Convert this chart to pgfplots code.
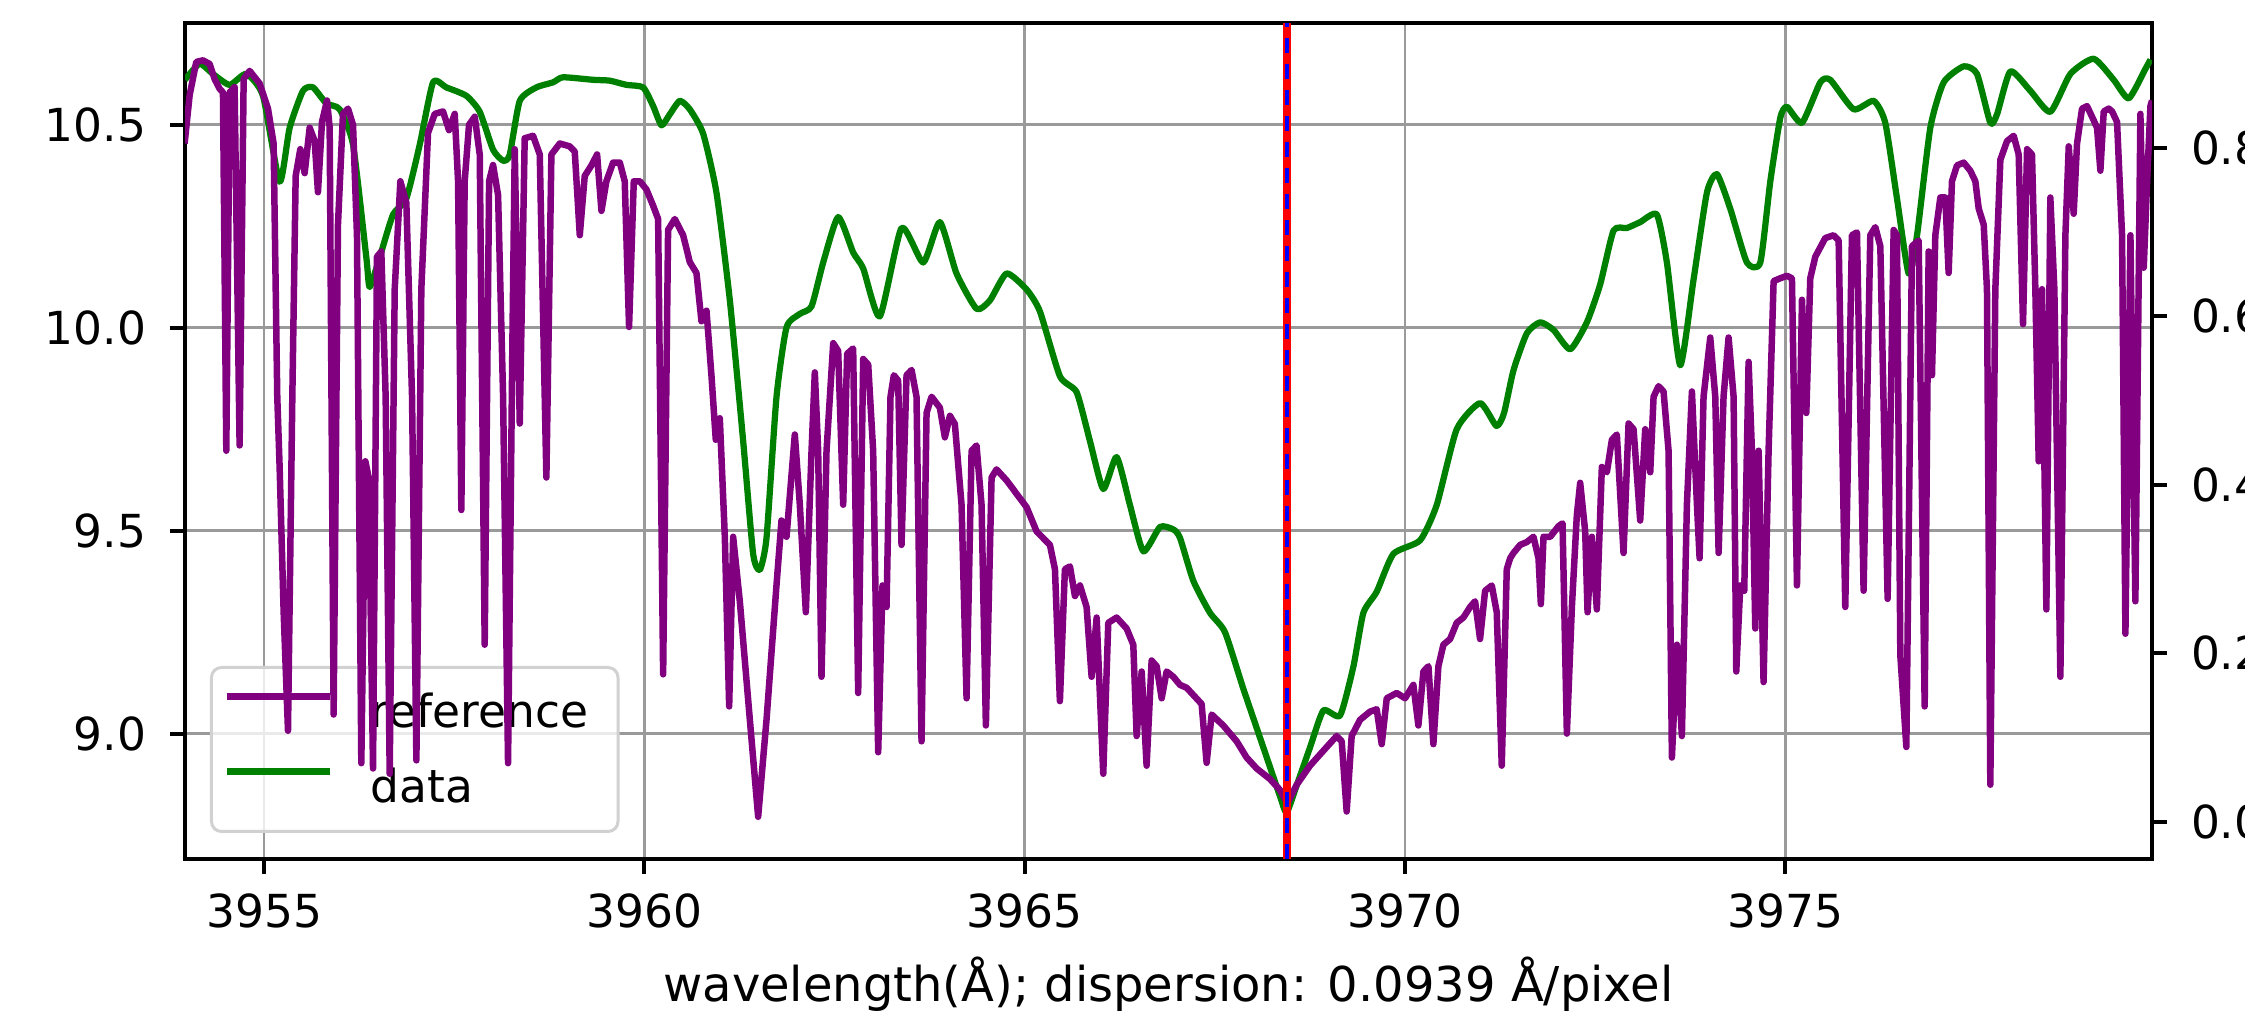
\documentclass[border=0pt]{standalone}
\usepackage{pgfplots}
\pgfplotsset{compat=1.18}
\usepackage{pgfplotstable}
\usepackage{fontspec}
\setmainfont{DejaVu Sans}
\definecolor{mplpurple}{HTML}{800080}
\definecolor{mplgreen}{HTML}{008000}
\definecolor{gridgray}{HTML}{9A9A9A}
\newcommand\fs{\fontsize{9.1}{10.9}\selectfont}
\newcommand\fsl{\fontsize{9.6}{11.5}\selectfont}

\pgfplotstableread{
x y
3953.955 10.454
3954.021 10.573
3954.108 10.655
3954.196 10.659
3954.284 10.650
3954.349 10.613
3954.415 10.589
3954.459 10.580
3954.503 9.697
3954.547 10.580
3954.612 10.593
3954.678 9.710
3954.731 10.613
3954.810 10.633
3954.941 10.602
3955.051 10.540
3955.125 10.454
3955.173 9.830
3955.204 9.657
3955.257 9.299
3955.314 9.007
3955.371 9.830
3955.415 10.374
3955.476 10.440
3955.533 10.381
3955.599 10.493
3955.665 10.460
3955.708 10.334
3955.761 10.507
3955.827 10.560
3955.862 10.493
3955.914 9.047
3955.971 10.254
3956.037 10.527
3956.103 10.540
3956.169 10.500
3956.221 10.228
3956.278 8.927
3956.331 9.671
3956.375 9.631
3956.432 8.914
3956.484 10.175
3956.541 10.188
3956.598 9.830
3956.651 8.901
3956.717 10.095
3956.791 10.361
3956.870 10.308
3956.945 9.830
3957.002 8.934
3957.067 10.095
3957.155 10.480
3957.243 10.527
3957.352 10.533
3957.431 10.487
3957.506 10.527
3957.550 10.361
3957.593 9.551
3957.637 10.361
3957.694 10.500
3957.769 10.520
3957.835 10.427
3957.900 9.219
3957.958 10.361
3958.010 10.401
3958.076 10.327
3958.142 9.830
3958.207 8.927
3958.264 9.962
3958.295 10.440
3958.361 9.764
3958.426 10.467
3958.536 10.473
3958.624 10.427
3958.711 9.631
3958.777 10.427
3958.887 10.454
3959.018 10.447
3959.084 10.434
3959.150 10.228
3959.215 10.374
3959.303 10.400
3959.378 10.427
3959.435 10.288
3959.500 10.361
3959.588 10.407
3959.676 10.407
3959.741 10.361
3959.798 10.002
3959.860 10.361
3959.939 10.361
3960.026 10.341
3960.114 10.301
3960.180 10.268
3960.246 9.146
3960.311 10.241
3960.399 10.268
3960.509 10.228
3960.596 10.162
3960.684 10.135
3960.750 10.016
3960.816 10.042
3960.881 9.883
3960.938 9.724
3960.991 9.777
3961.057 9.485
3961.114 9.067
3961.166 9.485
3961.254 9.326
3961.386 9.034
3961.495 8.795
3961.605 9.034
3961.736 9.365
3961.802 9.525
3961.868 9.485
3961.977 9.737
3962.043 9.564
3962.122 9.299
3962.197 9.697
3962.240 9.890
3962.284 9.697
3962.328 9.140
3962.394 9.697
3962.482 9.962
3962.547 9.943
3962.613 9.564
3962.665 9.936
3962.744 9.949
3962.810 9.100
3962.876 9.923
3962.942 9.909
3963.007 9.697
3963.073 8.954
3963.130 9.365
3963.183 9.312
3963.235 9.830
3963.279 9.883
3963.336 9.870
3963.380 9.465
3963.446 9.883
3963.512 9.896
3963.577 9.830
3963.643 8.981
3963.709 9.790
3963.775 9.830
3963.884 9.803
3963.950 9.730
3964.016 9.783
3964.081 9.763
3964.169 9.564
3964.235 9.087
3964.301 9.697
3964.366 9.710
3964.432 9.564
3964.489 9.020
3964.564 9.631
3964.629 9.651
3964.761 9.624
3964.892 9.591
3965.024 9.558
3965.156 9.498
3965.331 9.465
3965.397 9.405
3965.462 9.080
3965.528 9.405
3965.594 9.412
3965.660 9.339
3965.726 9.365
3965.813 9.312
3965.879 9.140
3965.945 9.286
3966.032 8.901
3966.098 9.273
3966.208 9.286
3966.339 9.259
3966.427 9.219
3966.471 8.994
3966.537 9.153
3966.602 8.921
3966.668 9.180
3966.734 9.166
3966.800 9.087
3966.865 9.153
3966.953 9.140
3967.041 9.120
3967.128 9.113
3967.325 9.073
3967.391 8.928
3967.457 9.047
3967.610 9.020
3967.786 8.981
3967.917 8.941
3968.049 8.914
3968.224 8.888
3968.356 8.861
3968.452 8.828
3968.575 8.874
3968.750 8.921
3968.970 8.967
3969.101 8.994
3969.167 8.981
3969.232 8.808
3969.298 8.994
3969.408 9.034
3969.539 9.054
3969.627 9.060
3969.693 8.974
3969.759 9.087
3969.890 9.100
3970.000 9.087
3970.109 9.120
3970.175 9.020
3970.241 9.153
3970.307 9.166
3970.372 8.974
3970.438 9.166
3970.504 9.219
3970.592 9.233
3970.679 9.273
3970.767 9.286
3970.855 9.312
3970.920 9.326
3970.986 9.233
3971.052 9.352
3971.140 9.365
3971.205 9.299
3971.271 8.921
3971.337 9.405
3971.381 9.432
3971.425 9.445
3971.513 9.465
3971.601 9.472
3971.688 9.485
3971.754 9.432
3971.785 9.319
3971.820 9.485
3971.908 9.485
3972.017 9.511
3972.070 9.518
3972.127 9.000
3972.193 9.312
3972.258 9.538
3972.302 9.618
3972.368 9.498
3972.399 9.299
3972.456 9.485
3972.521 9.306
3972.587 9.657
3972.653 9.644
3972.719 9.724
3972.784 9.737
3972.872 9.445
3972.938 9.764
3973.004 9.750
3973.091 9.525
3973.157 9.750
3973.223 9.644
3973.267 9.830
3973.332 9.856
3973.398 9.843
3973.464 9.697
3973.508 8.941
3973.574 9.219
3973.639 8.994
3973.705 9.564
3973.771 9.843
3973.837 9.564
3973.872 9.432
3973.924 9.830
3974.012 9.976
3974.078 9.830
3974.122 9.445
3974.187 9.830
3974.253 9.976
3974.319 9.830
3974.354 9.153
3974.407 9.365
3974.459 9.352
3974.516 9.916
3974.560 9.697
3974.604 9.259
3974.648 9.697
3974.713 9.127
3974.779 9.697
3974.845 10.115
3974.933 10.122
3975.020 10.128
3975.086 10.122
3975.152 9.365
3975.218 10.069
3975.275 9.790
3975.327 10.122
3975.393 10.175
3975.524 10.221
3975.634 10.228
3975.700 10.215
3975.787 9.312
3975.875 10.228
3975.941 10.235
3976.028 9.352
3976.116 10.228
3976.182 10.248
3976.248 10.201
3976.344 9.332
3976.423 10.241
3976.467 10.228
3976.511 9.193
3976.590 8.967
3976.664 10.201
3976.752 10.215
3976.831 9.067
3976.883 10.188
3976.927 9.883
3976.971 10.228
3977.037 10.321
3977.102 10.321
3977.146 10.135
3977.190 10.361
3977.256 10.400
3977.344 10.407
3977.431 10.387
3977.497 10.361
3977.541 10.294
3977.607 10.254
3977.650 10.095
3977.694 8.874
3977.760 10.095
3977.826 10.414
3977.914 10.460
3978.001 10.473
3978.067 10.427
3978.124 10.009
3978.177 10.440
3978.242 10.427
3978.286 10.095
3978.330 9.671
3978.374 10.095
3978.431 9.306
3978.483 10.321
3978.536 10.095
3978.615 9.140
3978.681 10.228
3978.725 10.447
3978.790 10.281
3978.834 10.454
3978.900 10.540
3978.966 10.546
3979.031 10.520
3979.097 10.493
3979.141 10.387
3979.185 10.533
3979.251 10.540
3979.295 10.533
3979.360 10.507
3979.426 10.228
3979.470 9.246
3979.536 10.228
3979.601 9.326
3979.667 10.527
3979.711 10.148
3979.755 10.361
3979.799 10.546
3979.820 10.560
}\refdata

\pgfplotstableread{
x y
3953.960 0.881
3954.152 0.900
3954.327 0.888
3954.547 0.875
3954.766 0.888
3954.985 0.862
3955.204 0.760
3955.336 0.824
3955.511 0.868
3955.643 0.872
3955.818 0.853
3955.993 0.846
3956.169 0.804
3956.344 0.670
3956.388 0.635
3956.519 0.670
3956.695 0.721
3956.870 0.740
3957.046 0.804
3957.221 0.878
3957.396 0.872
3957.659 0.862
3957.835 0.843
3958.010 0.798
3958.142 0.785
3958.229 0.792
3958.361 0.856
3958.580 0.872
3958.799 0.878
3958.930 0.884
3959.325 0.881
3959.544 0.880
3959.763 0.875
3959.983 0.872
3960.114 0.850
3960.224 0.827
3960.333 0.840
3960.465 0.856
3960.596 0.846
3960.772 0.817
3960.947 0.747
3961.123 0.619
3961.298 0.452
3961.429 0.318
3961.517 0.299
3961.605 0.337
3961.736 0.504
3961.868 0.587
3962.043 0.603
3962.197 0.612
3962.350 0.664
3962.547 0.718
3962.744 0.676
3962.876 0.657
3963.095 0.600
3963.380 0.705
3963.665 0.664
3963.884 0.712
3964.103 0.651
3964.366 0.609
3964.542 0.619
3964.761 0.651
3965.024 0.632
3965.199 0.606
3965.462 0.529
3965.682 0.510
3965.857 0.452
3966.032 0.395
3966.208 0.433
3966.383 0.376
3966.559 0.321
3966.778 0.350
3966.953 0.347
3967.041 0.337
3967.216 0.286
3967.435 0.248
3967.632 0.225
3967.873 0.158
3968.137 0.088
3968.356 0.030
3968.443 0.011
3968.575 0.043
3968.750 0.088
3968.926 0.132
3969.145 0.126
3969.320 0.184
3969.452 0.248
3969.627 0.273
3969.846 0.318
3970.197 0.334
3970.416 0.376
3970.679 0.466
3970.986 0.497
3971.200 0.470
3971.300 0.485
3971.425 0.536
3971.601 0.580
3971.776 0.593
3971.951 0.584
3972.171 0.561
3972.390 0.593
3972.565 0.638
3972.741 0.702
3972.916 0.705
3973.091 0.712
3973.310 0.721
3973.442 0.664
3973.617 0.542
3973.793 0.644
3973.968 0.747
3974.100 0.769
3974.275 0.728
3974.494 0.664
3974.670 0.664
3974.801 0.760
3974.933 0.836
3975.020 0.849
3975.218 0.830
3975.459 0.878
3975.590 0.881
3975.897 0.846
3976.160 0.856
3976.313 0.830
3976.467 0.740
3976.620 0.651
3976.730 0.696
3976.905 0.824
3977.081 0.878
3977.344 0.897
3977.519 0.888
3977.694 0.830
3977.782 0.840
3977.957 0.891
3978.220 0.868
3978.483 0.843
3978.747 0.888
3979.053 0.906
3979.316 0.881
3979.514 0.859
3979.733 0.894
3979.800 0.905
}\obsdata

\pgfplotsset{
  common/.style={
    scale only axis, width=393.4pt, height=167.2pt,
    xmin=3953.96, xmax=3979.82,
    at={(0pt,0pt)}, anchor=south west,
  },
}

\begin{document}
\begin{tikzpicture}
% base axis: frame, grid, bottom and left ticks, legend
\begin{axis}[common,
  ymin=8.691, ymax=10.751,
  axis line style={black, line width=0.8pt},
  xtick={3955,3960,3965,3970,3975},
  xticklabels={3955,3960,3965,3970,3975},
  ytick={9.0,9.5,10.0,10.5},
  yticklabels={9.0,9.5,10.0,10.5},
  xtick pos=left, ytick pos=left,
  tick align=outside,
  major tick length=3pt,
  every tick/.style={black, line width=0.8pt},
  grid=major,
  major grid style={gridgray, line width=0.55pt},
  tick label style={font=\fs, inner sep=0pt},
  xticklabel style={anchor=north, yshift=-3.8pt},
  yticklabel style={anchor=east, xshift=-4.6pt},
  xlabel={wavelength(Å); dispersion: 0.0939 Å/pixel},
  xlabel style={font=\fsl, at={(axis description cs:0.5,0)}, anchor=base, yshift=-28.4pt, inner sep=0pt},
  legend cell align=left,
  legend image code/.code={\draw[#1] (0pt,3.1pt) -- (20.6pt,3.1pt);},
  legend style={at={(axis description cs:0,0)}, anchor=south west,
    xshift=5pt, yshift=5.2pt,
    font=\fs, draw=black!18, line width=0.6pt, rounded corners=2pt,
    fill=white, fill opacity=0.8, text opacity=1,
    inner xsep=2.4pt, inner ysep=3.6pt, row sep=4.4pt, column sep=7.6pt,
    nodes={inner sep=0pt, text height=8.4pt, text depth=2.2pt, text width=47pt, align=left}},
]
\addlegendimage{mplpurple, line width=1.3pt}
\addlegendentry{reference}
\addlegendimage{mplgreen, line width=1.3pt}
\addlegendentry{data}
\end{axis}
% right axis: green data
\begin{axis}[common,
  ymin=-0.0444, ymax=0.9485,
  axis x line=none, axis y line*=right,
  axis line style={black, line width=0.8pt},
  ytick={0,0.2,0.4,0.6,0.8},
  yticklabels={0.0,0.2,0.4,0.6,0.8},
  tick align=outside,
  major tick length=3pt,
  every tick/.style={black, line width=0.8pt},
  tick label style={font=\fs, inner sep=0pt},
  yticklabel style={anchor=west, xshift=4.6pt},
]
\addplot[mplgreen, line width=1.25pt, line join=round, smooth, tension=0.35] table {\obsdata};
\end{axis}
% left-scale overlay: purple reference and marker line
\begin{axis}[common,
  ymin=8.691, ymax=10.751,
  hide axis,
]
\addplot[mplpurple, line width=1.3pt, line join=round] table {\refdata};
\addplot[red, line width=1.7pt] coordinates {(3968.45,8.691) (3968.45,10.751)};
\addplot[blue, line width=0.9pt, dash pattern=on 3pt off 2.2pt] coordinates {(3968.45,8.691) (3968.45,10.751)};
\end{axis}
\pgfresetboundingbox
\useasboundingbox (-37pt,-31pt) rectangle (412pt,171.8pt);
\end{tikzpicture}
\end{document}
